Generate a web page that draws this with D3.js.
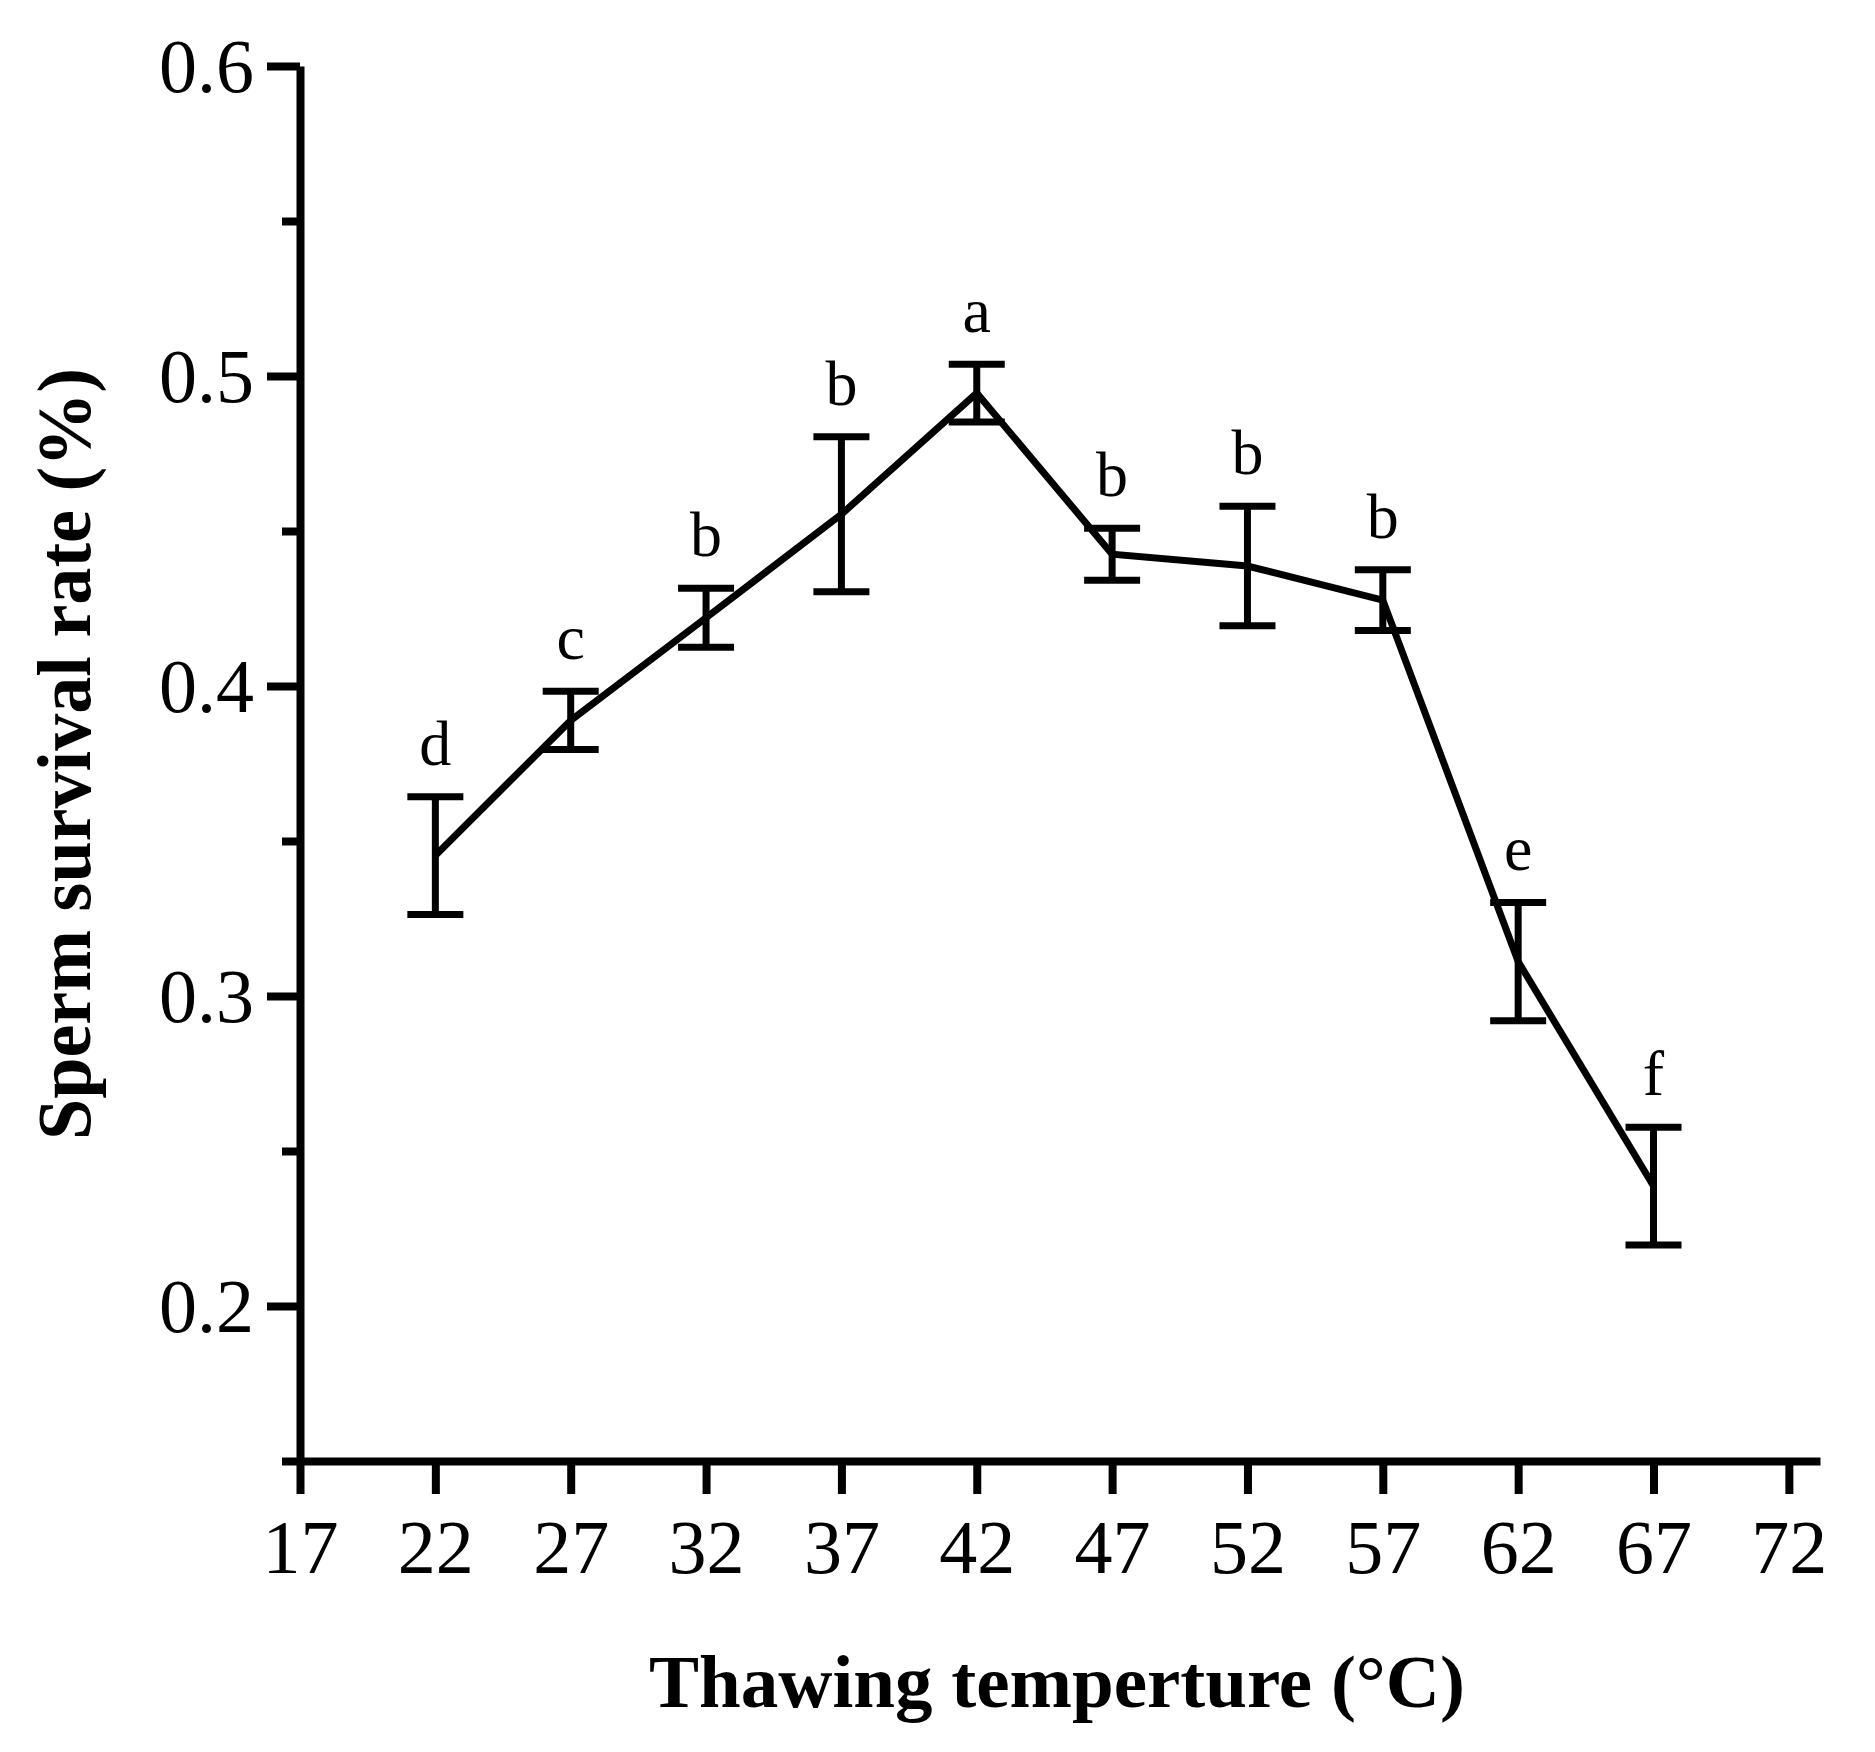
<!DOCTYPE html>
<html>
<head>
<meta charset="utf-8">
<script src="https://cdn.jsdelivr.net/npm/d3@7"></script>
<style>
  body { margin: 0; background: #fff; }
  text { font-family: "Liberation Serif", "Times New Roman", serif; fill: #000; }
</style>
</head>
<body>
<div id="chart"></div>
<script>
// data
const temps    = [22, 27, 32, 37, 42, 47, 52, 57, 62, 67];
const survival = [0.3453, 0.3889, 0.422, 0.4554, 0.4945, 0.4425, 0.4387, 0.4277, 0.3111, 0.2387];
const errs     = [0.019, 0.0094, 0.0095, 0.025, 0.0093, 0.0084, 0.0193, 0.0098, 0.0191, 0.019];
const letters  = ["d", "c", "b", "b", "a", "b", "b", "b", "e", "f"];

const xTicks = [17, 22, 27, 32, 37, 42, 47, 52, 57, 62, 67, 72];
const yTicks = [0.2, 0.3, 0.4, 0.5, 0.6];
const yMinor = [0.15, 0.25, 0.35, 0.45, 0.55];

const W = 1875, H = 1752;
const axisW = 8, lw = 7;

const svg = d3.select("#chart").append("svg")
  .attr("width", W).attr("height", H);

const x = d3.scaleLinear().domain([17, 73.15]).range([300, 1820]);
const y = d3.scaleLinear().domain([0.15, 0.6]).range([1461, 66]);

// y axis, major ticks
const yAxis = svg.append("g").attr("transform", "translate(300,0)")
  .call(d3.axisLeft(y).tickValues(yTicks).tickSize(33)
        .tickFormat(d3.format(".1f")).tickSizeOuter(0));
yAxis.selectAll(".tick text")
  .attr("font-family", "Liberation Serif")
  .attr("font-size", 76)
  .attr("x", -46)
  .attr("dy", "0.34em");

// y axis, minor ticks
svg.append("g").attr("class", "minor").attr("transform", "translate(300,0)")
  .call(d3.axisLeft(y).tickValues(yMinor).tickSize(18).tickFormat("").tickSizeOuter(0))
  .select(".domain").remove();

// x axis
const xAxis = svg.append("g").attr("transform", "translate(0,1461)")
  .call(d3.axisBottom(x).tickValues(xTicks).tickSize(33).tickSizeOuter(0));
xAxis.selectAll(".tick text")
  .attr("font-family", "Liberation Serif")
  .attr("font-size", 76)
  .attr("y", 112)
  .attr("dy", 0);

svg.selectAll(".domain, .tick line")
  .attr("stroke", "#000").attr("stroke-width", axisW);

// connecting line through the means
const line = d3.line().x((d, i) => x(temps[i])).y(d => y(d));
svg.append("path")
  .datum(survival)
  .attr("d", line)
  .attr("fill", "none")
  .attr("stroke", "#000")
  .attr("stroke-width", lw)
  .attr("stroke-linejoin", "miter");

// error bars
const capW = 28;
const eb = svg.append("g").attr("stroke", "#000").attr("stroke-width", lw);
survival.forEach((v, i) => {
  const cx = x(temps[i]);
  const top = y(v + errs[i]), bot = y(v - errs[i]);
  eb.append("line").attr("x1", cx).attr("x2", cx).attr("y1", top).attr("y2", bot);
  eb.append("line").attr("x1", cx - capW).attr("x2", cx + capW).attr("y1", top).attr("y2", top);
  eb.append("line").attr("x1", cx - capW).attr("x2", cx + capW).attr("y1", bot).attr("y2", bot);
});

// significance letters
svg.append("g").selectAll("text")
  .data(letters)
  .join("text")
  .attr("x", (d, i) => x(temps[i]))
  .attr("y", (d, i) => y(survival[i] + errs[i]) - 32)
  .attr("text-anchor", "middle")
  .attr("font-size", 64)
  .text(d => d);

// axis titles
svg.append("text")
  .attr("x", 1057).attr("y", 1707)
  .attr("text-anchor", "middle")
  .attr("font-size", 75).attr("font-weight", "bold")
  .text("Thawing temperture (°C)");

svg.append("text")
  .attr("transform", "translate(90,754) rotate(-90)")
  .attr("text-anchor", "middle")
  .attr("font-size", 76).attr("font-weight", "bold")
  .attr("textLength", 772).attr("lengthAdjust", "spacingAndGlyphs")
  .text("Sperm survival rate (%)");
</script>
</body>
</html>
